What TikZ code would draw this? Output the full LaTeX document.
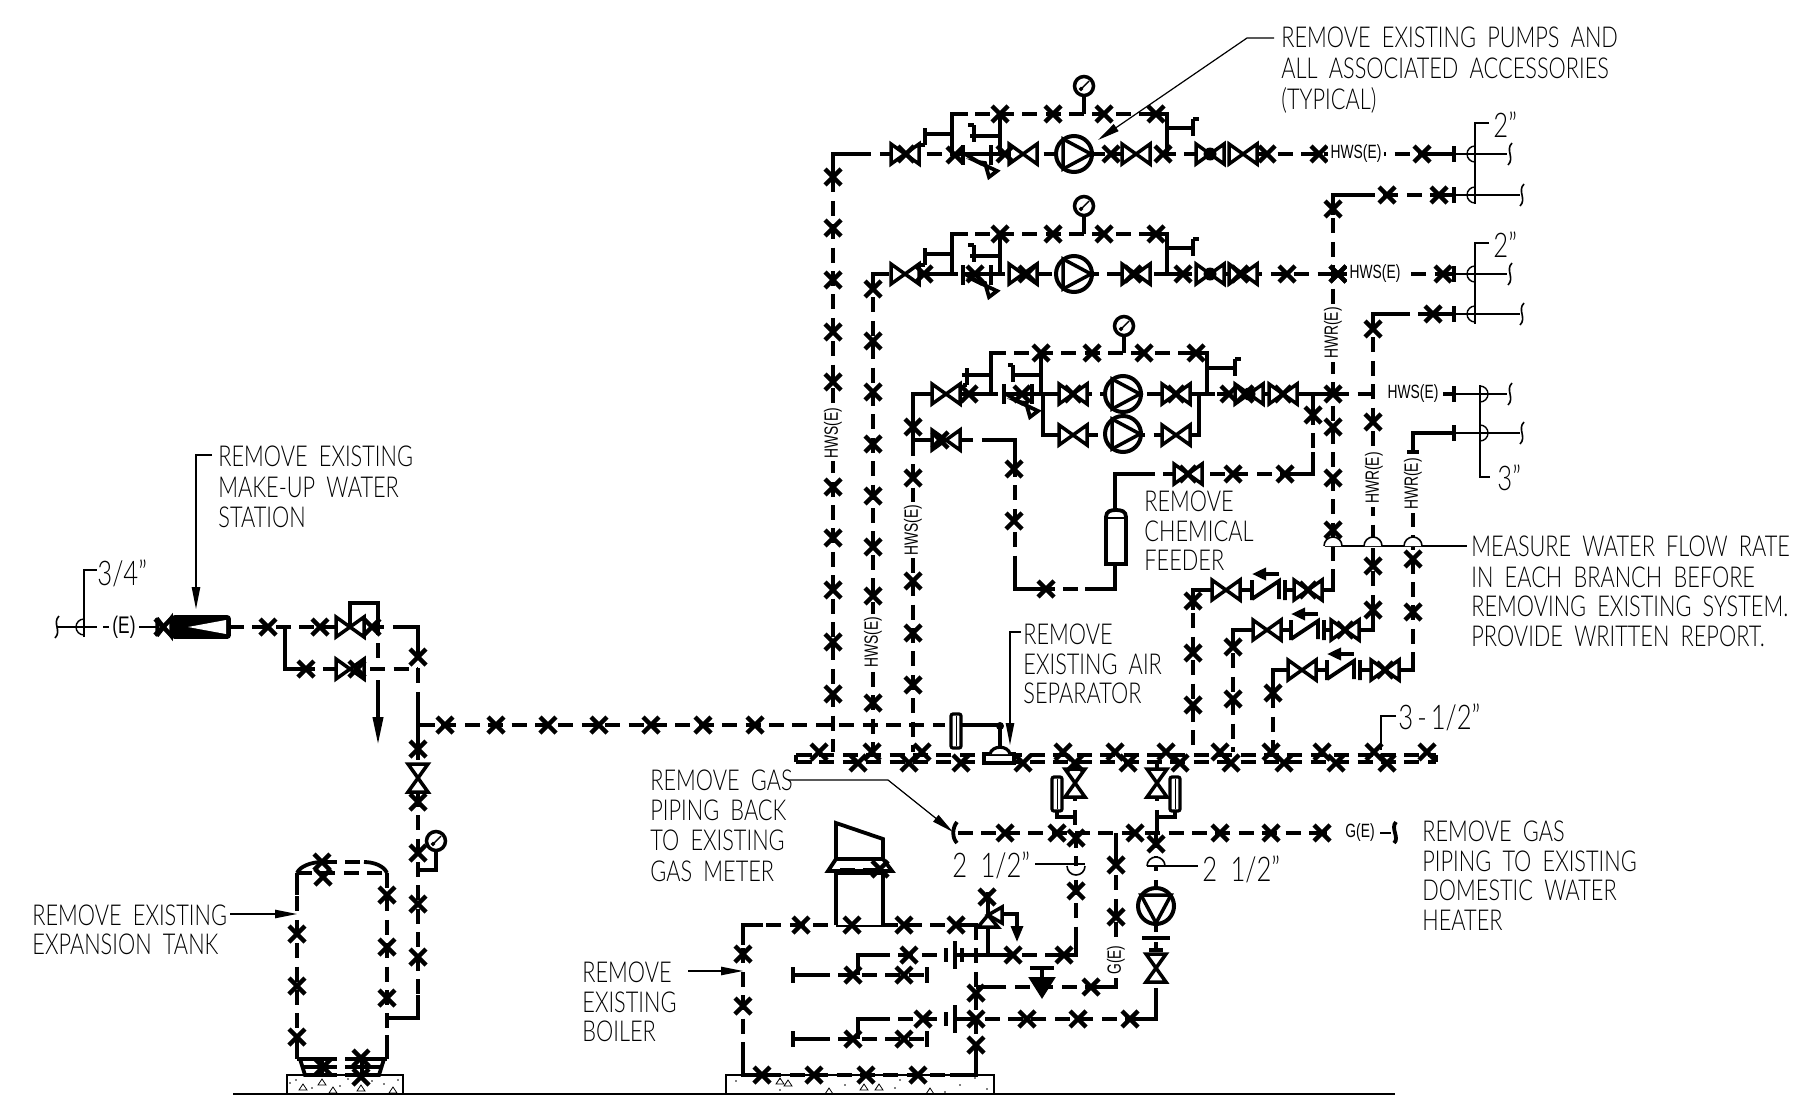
\documentclass[tikz,border=0pt]{standalone}
\usepackage{fontspec}
\IfFontExistsTF{Lato Light}{\setmainfont[FakeStretch=0.755,WordSpace=1.9]{Lato Light}}{\setmainfont[FakeStretch=0.7,WordSpace=1.9]{Liberation Sans}}
\newfontfamily\tagfont[FakeStretch=0.72]{Liberation Sans}
\usetikzlibrary{arrows.meta}
\tikzset{
  x=0.5pt,y=-0.5pt,
  pipe/.style={line width=1.9pt,dash pattern=on 7.5pt off 4.2pt},
  sol/.style={line width=1.9pt,line join=miter},
  xmk/.style={line width=2.2pt},
  val/.style={line width=1.75pt,fill=white,line join=miter},
  thinl/.style={line width=0.6pt},
  lead/.style={line width=0.6pt,-{Stealth[length=11pt,width=4.2pt,inset=0pt]}},
  lbl/.style={anchor=west,inner sep=0pt,font=\fontsize{14.4pt}{16pt}\selectfont},
  size/.style={anchor=west,inner sep=0pt,font=\fontsize{17pt}{19pt}\selectfont},
  tag/.style={inner sep=1.5pt,fill=white,font=\tagfont\fontsize{9.6pt}{11pt}\selectfont},
}
\newcommand{\xm}[2]{\draw[xmk] (#1-8,#2-8)--(#1+8,#2+8) (#1-8,#2+8)--(#1+8,#2-8);}
\newcommand{\xs}[1]{\foreach \a/\b in {#1} {\xm{\a}{\b}}}
\newcommand{\vh}[2]{\draw[val] (#1-14,#2-10)--(#1+14,#2+10)--(#1+14,#2-10)--(#1-14,#2+10)--cycle;}
\newcommand{\vv}[2]{\draw[val] (#1-10,#2-14)--(#1+10,#2+14)--(#1-10,#2+14)--(#1+10,#2-14)--cycle;}
\newcommand{\vb}[2]{\vh{#1}{#2}\fill (#1,#2) circle[radius=6.5];}
\newcommand{\pump}[2]{\draw[line width=2pt,fill=white] (#1,#2) circle[radius=18];
  \draw[line width=1.75pt,line join=miter] (#1-11,#2-15)--(#1+17,#2)--(#1-11,#2+15)--cycle;}
\newcommand{\pumpd}[2]{\draw[line width=2pt,fill=white] (#1,#2) circle[radius=18];
  \draw[line width=1.75pt,line join=miter] (#1-15,#2-11)--(#1,#2+17)--(#1+15,#2-11)--cycle;}
\newcommand{\gauge}[2]{\draw[line width=1.75pt,fill=white] (#1,#2) circle[radius=9.5];
  \draw[thinl,line width=.7pt] (#1-3,#2+3) circle[radius=1.3] (#1-3,#2+3)--(#1+5,#2-5);}
\newcommand{\fl}[3]{\draw[sol] (#1,#2-#3)--(#1,#2+#3);}
\newcommand{\strn}[2]{\draw[sol] (#1,#2)--(#1+17,#2+10);
  \draw[line width=1.9pt,fill=white,line join=miter] (#1+13,#2+8)--(#1+32,#2+17)--(#1+24,#2+23)--(#1+20,#2+9)--cycle;}
\newcommand{\brk}[2]{\draw[thinl,line width=.8pt] (#1+2,#2-11) .. controls (#1-5,#2-4) and (#1+5,#2+4) .. (#1-2,#2+11);}
\newcommand{\chk}[2]{\draw[sol] (#1,#2-10)--(#1,#2+10) (#1,#2+9)--(#1+27,#2-9)--(#1+27,#2+9) (#1+33,#2-10)--(#1+33,#2+10);
  \draw[line width=1.9pt,-{Stealth[length=7pt,width=6pt,inset=0pt]}] (#1+27,#2-16)--(#1,#2-16);}
\newcommand{\hv}[3]{\draw[sol] (#1+#3,#2)--(#1,#2)--(#1,#2+#3);}
\newcommand{\tri}[2]{\draw[line width=.4pt] (#1,#2-3)--(#1+4,#2+3)--(#1-4,#2+3)--cycle;}
\newcommand{\vent}[2]{\draw[line width=1.6pt,fill=white,rounded corners=1pt] (#1-5,#2-17)rectangle(#1+5,#2+17);\draw[line width=.5pt] (#1,#2-15)--(#1,#2+15);}
% half circles: y runs downwards here, so 270 is the top of a circle
\newcommand{\arcl}[2]{\draw[thinl,line width=.7pt] (#1,#2-8) arc[start angle=270,end angle=90,radius=8];}
\newcommand{\arcr}[2]{\draw[thinl,line width=.7pt] (#1,#2-8) arc[start angle=270,end angle=450,radius=8];}
\begin{document}
\begin{tikzpicture}
\useasboundingbox (0,0) rectangle (1797,1108);
% ---- ground and pads
\draw[line width=.9pt] (233,1094)--(1395,1094);
\draw[line width=.6pt] (287,1094)--(287,1075)--(403,1075)--(403,1094);
\draw[line width=.6pt] (726,1094)--(726,1075)--(994,1075)--(994,1094);
\foreach \a/\b in {303/1087,322/1082,333/1090,361/1088,393/1090,780/1081,829/1091,788/1083,864/1087,879/1087,930/1091}{\tri{\a}{\b}}
\foreach \a/\b in {290/1083,296/1080,312/1088,340/1086,348/1079,372/1081,384/1084,398/1080,736/1081,780/1090,780/1079,845/1085,895/1088,945/1092,975/1078,987/1089,960/1085,900/1080}{\fill (\a,\b) circle[radius=.9];}
% ---- row 1
\draw[pipe] (833,154)--(1422,154);
\draw[pipe] (833,154)--(833,752);
\hv{833}{154}{30}
\draw[pipe] (952,114)--(1167,114);
\draw[sol] (952,154)--(952,114)--(968,114);
\draw[sol] (1000,154)--(1000,114);
\draw[sol] (1150,114)--(1167,114)--(1167,154);
\draw[sol] (1084,114)--(1084,93);
\draw[sol] (925,134)--(952,134) (925,128)--(925,145) (925,145)--(921,145);
\draw[sol] (970,136)--(1000,136) (974,136)--(974,142) (974,125)--(974,136) (974,125)--(968,125);
\draw[sol] (1167,128)--(1193,128) (1193,119)--(1193,136) (1193,119)--(1199,119);
\draw[sol] (965,154)--(1003,154);
\fl{963}{155}{10}\fl{991}{155}{10}
\strn{965}{154}
\vh{905}{154}\vh{1023}{154}\pump{1074}{154}\vh{1136}{154}\vb{1210}{154}\vh{1243}{154}
\draw[sol] (1422,154)--(1454,154); \fl{1454}{154}{8}
% ---- row 2
\draw[pipe] (873,274)--(1443,274);
\draw[pipe] (873,274)--(873,752);
\hv{873}{274}{16}
\draw[pipe] (952,234)--(1167,234);
\draw[sol] (935,274)--(952,274)--(952,234)--(968,234);
\draw[sol] (1000,274)--(1000,234);
\draw[sol] (1150,234)--(1167,234)--(1167,274)--(1180,274);
\draw[sol] (1084,234)--(1084,213);
\draw[sol] (925,254)--(952,254) (925,248)--(925,265) (925,265)--(921,265);
\draw[sol] (970,256)--(1000,256) (974,245)--(974,262) (974,245)--(968,245);
\draw[sol] (1167,248)--(1193,248) (1193,239)--(1193,256) (1193,239)--(1199,239);
\draw[sol] (965,274)--(1003,274);
\fl{963}{275}{10}\fl{991}{275}{10}
\strn{965}{274}
\vh{905}{274}\vh{1023}{274}\pump{1074}{274}\vh{1136}{274}\vb{1210}{274}\vh{1243}{274}
\draw[sol] (1443,274)--(1454,274); \fl{1454}{274}{8}
% ---- row 3
\draw[pipe] (913,394)--(1373,394);
\draw[pipe] (913,394)--(913,752);
\hv{913}{394}{25}
\draw[sol] (913,421)--(913,440)--(935,440);
\draw[pipe] (935,440)--(1015,440);
\draw[sol] (985,440)--(1015,440)--(1015,462);
\draw[pipe] (1015,462)--(1015,565);
\draw[sol] (1015,565)--(1015,589)--(1040,589);
\draw[pipe] (1040,589)--(1115,589);
\draw[sol] (1085,589)--(1115,589)--(1115,564);
\draw[pipe] (991,353)--(1207,353);
\draw[sol] (975,394)--(991,394)--(991,353)--(1005,353);
\draw[sol] (1041,394)--(1041,353);
\draw[sol] (1190,353)--(1207,353)--(1207,394)--(1215,394);
\draw[sol] (1124,353)--(1124,335);
\draw[sol] (962,375)--(991,375) (967,368)--(967,385) (967,385)--(963,385);
\draw[sol] (1013,375)--(1041,375) (1013,365)--(1013,382) (1013,365)--(1008,365);
\draw[sol] (1235,368)--(1207,368) (1235,359)--(1235,376) (1235,359)--(1241,359);
\draw[sol] (1006,394)--(1041,394);
\fl{1004}{394}{10}\fl{1032}{394}{10}
\strn{1006}{394}
\draw[sol] (1043,394)--(1043,435)--(1060,435) (1199,394)--(1199,435)--(1186,435);
\draw[pipe] (1060,435)--(1186,435);
\draw[sol] (1043,394)--(1055,394) (1199,394)--(1190,394);
\vh{946}{394}\vh{946}{440}\vh{1073}{394}\vh{1073}{435}
\pump{1123}{394}\pump{1123}{434}
\vh{1176}{394}\vh{1176}{435}\vb{1249}{394}\vh{1283}{394}
\draw[sol] (1297,394)--(1333,394);
\draw[sol] (1313,394)--(1313,410);
\draw[pipe] (1313,410)--(1313,456);
\draw[sol] (1313,452)--(1313,474)--(1295,474);
\draw[pipe] (1295,474)--(1115,474);
\draw[sol] (1140,474)--(1115,474)--(1115,517);
\vh{1188}{474}
% chemical feeder
\draw[line width=1.9pt,fill=white,line join=miter] (1106,564)--(1106,517) .. controls (1106,511) and (1111,510) .. (1116,510) .. controls (1121,510) and (1126,511) .. (1126,517)--(1126,564)--cycle;
\draw[line width=.8pt] (1106,518)--(1126,518);
% ---- returns at right
\draw[pipe] (1333,195)--(1333,590);
\draw[sol] (1333,215)--(1333,195)--(1360,195);
\draw[pipe] (1360,195)--(1440,195);
\draw[sol] (1435,195)--(1454,195); \fl{1454}{195}{8}
\draw[sol] (1333,570)--(1333,590)--(1315,590);
\draw[pipe] (1373,314)--(1373,630);
\draw[sol] (1373,330)--(1373,314)--(1395,314);
\draw[pipe] (1395,314)--(1433,314);
\draw[sol] (1433,314)--(1454,314); \fl{1454}{314}{8}
\draw[sol] (1373,610)--(1373,630)--(1358,630);
\draw[sol] (1413,452)--(1413,433)--(1454,433); \fl{1454}{433}{8}
\draw[sol] (1407,452)--(1419,452);
\draw[pipe] (1413,465)--(1413,670);
\draw[sol] (1413,652)--(1413,670)--(1398,670);
\draw[sol] (1443,394)--(1454,394); \fl{1454}{394}{8}
% check valve branches
\draw[pipe] (1193,590)--(1193,752);
\draw[sol] (1193,610)--(1193,590)--(1212,590)  (1240,590)--(1252,590) (1285,590)--(1294,590);
\draw[pipe] (1233,630)--(1233,752);
\draw[sol] (1233,650)--(1233,630)--(1252,630)  (1281,630)--(1291,630) (1324,630)--(1331,630);
\draw[pipe] (1273,670)--(1273,752);
\draw[sol] (1273,690)--(1273,670)--(1288,670)  (1316,670)--(1327,670) (1360,670)--(1371,670);
\vh{1226}{590}\chk{1252}{590}\vh{1308}{590}
\vh{1267}{630}\chk{1291}{630}\vh{1345}{630}
\vh{1302}{670}\chk{1327}{670}\vh{1385}{670}
% ---- header
\draw[pipe] (796,755)--(1436,755);
\draw[pipe] (796,762)--(1436,762);
\draw[sol] (796,755)--(796,762) (1436,755)--(1436,762);
\draw[sol] (796,755)--(812,755) (796,762)--(812,762);
% ---- long line and air separator
\draw[pipe] (418,725)--(945,725);
\draw[sol] (418,725)--(435,725) (961,725)--(1000,725)--(1000,748);
\vent{956}{731}
\draw[line width=1.6pt,fill=white] (984,754)rectangle(1014,763);
\draw[line width=1.6pt,fill=white] (990,754) .. controls (992,745) and (1008,745) .. (1010,754);
\fill (1000,726) circle[radius=4];
% ---- gas take-offs
\draw[pipe] (1075,763)--(1075,815);
\draw[pipe] (1157,763)--(1157,833);
\vv{1075}{783}\vv{1157}{783}
\vent{1057}{794}\vent{1175}{794}
\draw[sol] (1057,811)--(1057,817)--(1075,817)--(1075,825);
\draw[sol] (1175,811)--(1175,817)--(1157,817)--(1157,833);
% ---- gas main
\draw[pipe] (958,833)--(1324,833);
\draw[line width=1.9pt] (957,822) .. controls (952,828) and (952,838) .. (957,843);
\draw[sol] (1116,833)--(1116,852);
\draw[pipe] (1116,852)--(1116,985);
\draw[sol] (1116,972)--(1116,987)--(1100,987);
\draw[pipe] (1100,987)--(976,987);
\draw[sol] (1000,987)--(976,987);
\draw[pipe] (1076,833)--(1076,955);
\draw[sol] (1076,930)--(1076,955)--(1060,955);
\draw[pipe] (1060,955)--(962,955);
\draw[sol] (1000,955)--(962,955);
\draw[sol] (1030,968)--(1054,968) (1042,968)--(1042,977);
\draw[fill=black,line width=1pt,line join=miter] (1030,978)--(1054,978)--(1042,997)--cycle;
\draw[pipe] (1156,833)--(1156,888);
\pumpd{1156}{906}
\draw[sol] (1156,924)--(1156,932) (1142,938)--(1170,938);
\draw[sol] (1156,942)--(1156,950);
\draw[sol] (1149,950)--(1163,950);
\vv{1156}{968}
\draw[sol] (1156,988)--(1156,1019)--(1140,1019);
\draw[pipe] (1140,1019)--(976,1019);
\draw[sol] (1324,833)--(1327,833);
% ---- boiler
\draw[pipe] (743,925)--(976,925);
\draw[pipe] (743,925)--(743,1075);
\draw[pipe] (743,1075)--(976,1075);
\draw[pipe] (976,925)--(976,1075);
\hv{743}{925}{20}
\draw[sol] (743,1050)--(743,1075)--(760,1075);
\draw[sol] (976,1050)--(976,1075)--(950,1075) (836,925)--(883,925) (955,925)--(976,925)--(976,940);
\draw[line width=1.9pt,fill=white,line join=miter] (836,925)--(836,873)--(883,873)--(883,925);
\draw[sol] (836,859)--(836,823)--(883,839)--(883,859);
\draw[line width=1.9pt,fill=white,line join=miter] (836,859)--(883,859)--(892,871)--(828,871)--cycle;
\draw[pipe] (840,870)--(880,870);
% relief valve
\draw[sol] (988,955)--(988,927);
\draw[sol] (988,915)--(988,892);
\draw[line width=1.75pt,fill=white,line join=miter] (978,927)--(998,927)--(988,915)--cycle;
\draw[line width=1.75pt,fill=white,line join=miter] (988,915)--(1002,907)--(1002,923)--cycle;
\draw[line width=1.6pt] (1002,914)--(1017,914)--(1017,925);
\draw[line width=1.6pt,-{Stealth[length=8pt,width=6pt,inset=0pt]}] (1017,925)--(1017,942);
% burner rows
\draw[sol] (858,975)--(858,955)--(875,955);
\draw[pipe] (875,955)--(942,955);
\fl{946}{955}{7}\fl{955}{955}{14}\fl{962}{955}{7}
\draw[sol] (955,955)--(976,955);
\draw[sol] (793,975)--(815,975) (793,967)--(793,983) (927,967)--(927,983);
\draw[pipe] (815,975)--(927,975);
\draw[sol] (858,1039)--(858,1019)--(875,1019);
\draw[pipe] (875,1019)--(942,1019);
\fl{946}{1019}{7}\fl{955}{1019}{14}\draw[sol] (955,1019)--(976,1019);
\draw[sol] (793,1039)--(815,1039) (793,1031)--(793,1047) (927,1031)--(927,1047);
\draw[pipe] (815,1039)--(927,1039);
% ---- left side
\draw[pipe] (229,627)--(418,627);
\draw[sol] (285,627)--(285,669)--(300,669);
\draw[pipe] (300,669)--(418,669);
\draw[sol] (350,627)--(350,603)--(378,603)--(378,620);
\draw[pipe] (378,620)--(378,660);
\draw[sol] (405,627)--(418,627)--(418,645);
\draw[pipe] (418,645)--(418,725);
\draw[sol] (418,705)--(418,745);
\vh{350}{627}\vh{350}{669}
\draw[line width=1.9pt,-{Stealth[length=14pt,width=5pt,inset=0pt]}] (378,680)--(378,745);
\draw[pipe] (418,745)--(418,1015);
\draw[sol] (418,995)--(418,1018)--(387,1018);
\vv{418}{778}
\draw[sol] (418,870)--(436,870)--(436,851);
\gauge{436}{841}
% water meter
\draw[line width=1.9pt,fill=black,rounded corners=1pt] (173,617)rectangle(229,637);
\fill[white] (188,627)--(226,620)--(226,634)--cycle;
% small valve
\draw[line width=1.75pt,fill=white,line join=miter] (157,618)--(157,636) (157,618)--(171,636)--(171,618)--(157,636);
% expansion tank
\draw[pipe] (297,873)--(297,1059);
\draw[pipe] (387,873)--(387,1059);
\draw[sol] (297,895)--(297,873) (387,885)--(387,873);
\draw[sol] (297,1040)--(297,1059) (387,1035)--(387,1059);
\draw[pipe] (297,873)--(387,873);
\draw[pipe,line width=1.8pt] (322,862)--(364,862);
\draw[line width=1.9pt] (297,873) .. controls (300,866) and (312,862) .. (322,862);
\draw[line width=1.9pt] (364,862) .. controls (374,862) and (384,866) .. (387,873);
\draw[sol] (297,1059)--(322,1059);
\draw[pipe] (322,1059)--(362,1059);
\draw[sol] (362,1059)--(387,1059);
\draw[sol] (300,1059)--(305,1075)--(322,1075)--(322,1059);
\draw[sol] (384,1059)--(379,1075)--(362,1075)--(362,1059);
\draw[sol] (302,1067)--(322,1067) (362,1067)--(382,1067);
\draw[pipe] (322,1067)--(362,1067);
\draw[pipe] (322,1075)--(362,1075);
% ---- X marks
\xs{906/154,955/155,1000/114,1053/114,1104/114,1156/114,1005/154,1111/154,1163/154,1267/154,1319/154,1422/154}
\xs{924/274,975/274,1000/234,1053/234,1104/234,1156/234,1027/274,1133/274,1183/274,1240/274,1287/274,1338/274,1443/274}
\xs{833/177,833/228,833/280,833/332,833/382,833/487,833/538,833/590,833/642,833/694}
\xs{873/289,873/341,873/392,873/444,873/496,873/547,873/596,873/703}
\xs{913/427,913/478,913/581,913/633,913/685,940/440}
\xs{969/394,1041/353,1092/353,1144/353,1196/353,1022/394,1073/394,1176/394,1229/394,1245/394,1283/394,1333/394}
\xs{1313/415,1285/474,1233/474,1188/474,1014/469,1014/521,1046/589}
\xs{1333/209,1338/274,1333/427,1333/478,1333/530,1387/195,1439/195,1373/329,1373/422,1373/566,1373/610,1433/314}
\xs{1413/559,1413/612,1193/601,1193/653,1193/705,1233/647,1233/699,1273/693,1308/590,1345/630,1385/670}
\xs{819/752,872/752,922/752,1063/752,1115/752,1166/752,1220/752,1271/752,1322/752,1374/752,1427/752}
\xs{858/763,909/763,961/763,1023/763,1075/763,1128/763,1180/763,1231/763,1284/763,1336/763,1387/763}
\xs{445/725,496/725,548/725,599/725,651/725,703/725,755/725}
\xs{1005/833,1057/833,1076/838,1135/833,1220/833,1271/833,1322/833,1156/844,1116/865,1116/917,1076/891,1091/987}
\xs{801/925,852/925,904/925,956/925,880/869,743/954,743/1006,762/1075,814/1075,866/1075,918/1075,976/993,976/1019,976/1045}
\xs{909/955,1013/955,1064/955,853/975,904/975,923/1019,853/1039,904/1039,1027/1019,1078/1019,1130/1019,987/897}
\xs{163/627,268/627,320/627,372/627,306/669,357/669,418/657,418/749,418/802,418/853,418/904,418/957}
\xs{322/862,323/877,387/895,387/947,387/998,297/934,297/986,297/1037,323/1067,361/1058,361/1077}
% ---- thin pipe parts, stubs
\draw[thinl] (1454,154)--(1507,154) (1454,195)--(1520,195) (1454,274)--(1507,274) (1454,314)--(1520,314) (1454,394)--(1507,394) (1454,433)--(1520,433);
\brk{1510}{154}\brk{1522}{195}\brk{1510}{274}\brk{1522}{314}\brk{1510}{394}\brk{1522}{433}
% size brackets
\draw[thinl] (1489,123)--(1475,123)--(1475,204);
\arcl{1475}{154}\arcl{1475}{195}
\draw[thinl] (1489,243)--(1475,243)--(1475,324);
\arcl{1475}{274}\arcl{1475}{314}
\draw[thinl] (1480,385)--(1480,477)--(1490,477);
\arcr{1480}{394}\arcr{1480}{433}
% arcs with the flow leader
\draw[thinl] (1325,546)--(1467,546);
\foreach \a in {1333,1373,1413}{\draw[line width=.8pt,fill=white] (\a-9,546) arc[start angle=180,end angle=360,radius=9];}
\draw[thinl] (1396,716)--(1381,716)--(1381,750);
\draw[thinl] (57,627)--(97,627) (84,637)--(84,570)--(97,570);
\arcl{84}{627}
\brk{57}{627}
\draw[thinl] (103,627)--(112,627) (139,627)--(157,627);
\draw[line width=.8pt,fill=white] (1067,866) arc[start angle=180,end angle=0,radius=9];
\draw[thinl] (1035,864)--(1085,864);
\draw[line width=.8pt,fill=white] (1147,866) arc[start angle=180,end angle=360,radius=9];
\draw[thinl] (1147,866)--(1198,866);
\draw[thinl] (1380,833)--(1391,833);
\draw[line width=1.9pt] (1396,822) .. controls (1390,828) and (1400,838) .. (1394,843);
% ---- label text
\node[lbl] (p1) at (1281,37) {REMOVE EXISTING PUMPS AND};
\node[lbl] (p2) at (1281,68) {ALL ASSOCIATED ACCESSORIES};
\node[lbl] (p3) at (1281,100) {(TYPICAL)};
\coordinate (ptip) at (1098,140);
\draw[lead] (1274,38)--(1247,38)--(ptip);
\node[lbl] (m1) at (1471,546) {MEASURE WATER FLOW RATE};
\node[lbl] (m2) at (1471,577) {IN EACH BRANCH BEFORE};
\node[lbl] (m3) at (1471,606) {REMOVING EXISTING SYSTEM.};
\node[lbl] (m4) at (1471,636) {PROVIDE WRITTEN REPORT.};
\node[lbl] (s1) at (218,456) {REMOVE EXISTING};
\node[lbl] (s2) at (218,487) {MAKE-UP WATER};
\node[lbl] (s3) at (218,517) {STATION};
\coordinate (stip) at (196,609);
\draw[lead] (212,455)--(196,455)--(stip);
\node[lbl] (e1) at (32,915) {REMOVE EXISTING};
\node[lbl] (e2) at (32,944) {EXPANSION TANK};
\coordinate (etip) at (297,914);
\draw[lead] (230,914)--(etip);
\node[lbl] (c1) at (1144,501) {REMOVE};
\node[lbl] (c2) at (1144,531) {CHEMICAL};
\node[lbl] (c3) at (1144,560) {FEEDER};
\node[lbl] (a1) at (1023,634) {REMOVE};
\node[lbl] (a2) at (1023,664) {EXISTING AIR};
\node[lbl] (a3) at (1023,693) {SEPARATOR};
\coordinate (atip) at (1010,745);
\draw[lead] (1021,632)--(1010,632)--(atip);
\node[lbl] (g1) at (650,780) {REMOVE GAS};
\node[lbl] (g2) at (650,810) {PIPING BACK};
\node[lbl] (g3) at (650,840) {TO EXISTING};
\node[lbl] (g4) at (650,871) {GAS METER};
\coordinate (gtip) at (953,832);
\draw[lead] (788,780)--(888,780)--(gtip);
\node[lbl] (d1) at (1422,831) {REMOVE GAS};
\node[lbl] (d2) at (1422,861) {PIPING TO EXISTING};
\node[lbl] (d3) at (1422,890) {DOMESTIC WATER};
\node[lbl] (d4) at (1422,920) {HEATER};
\node[lbl] (b1) at (582,972) {REMOVE};
\node[lbl] (b2) at (582,1002) {EXISTING};
\node[lbl] (b3) at (582,1031) {BOILER};
\coordinate (btip) at (743,971);
\draw[lead] (688,971)--(btip);
% ---- sizes
\node[size] (z1) at (1493,125) {2”};
\node[size] (z2) at (1493,245) {2”};
\node[size] (z3) at (1497,478) {3”};
\node[size] (z4) at (97,573) {3/4”};
\node[size] (z5) at (1398,717) {3\kern2pt-\kern2pt 1/2”};
\node[size] (z6) at (952,865) {2\ 1/2”};
\node[size] (z7) at (1202,869) {2\ 1/2”};
% ---- line tags
\node[tag] (h1) at (1356,154) {HWS(E)};
\node[tag] (h2) at (1375,274) {HWS(E)};
\node[tag] (h3) at (1413,394) {HWS(E)};
\node[tag,rotate=90] (v1) at (833,433) {HWS(E)};
\node[tag,rotate=90] (v2) at (873,642) {HWS(E)};
\node[tag,rotate=90] (v3) at (913,530) {HWS(E)};
\node[tag,rotate=90] (r1) at (1333,333) {HWR(E)};
\node[tag,rotate=90] (r2) at (1374,478) {HWR(E)};
\node[tag,rotate=90] (r3) at (1413,484) {HWR(E)};
\node[tag,rotate=90] (g5) at (1116,960) {G(E)};
\node[tag] (g6) at (1360,833) {G(E)};
\node[tag,font=\tagfont\fontsize{12pt}{14pt}\selectfont] (w1) at (124,627) {(E)};
\gauge{1084}{86}\gauge{1084}{206}\gauge{1124}{326}
\end{tikzpicture}
\end{document}
